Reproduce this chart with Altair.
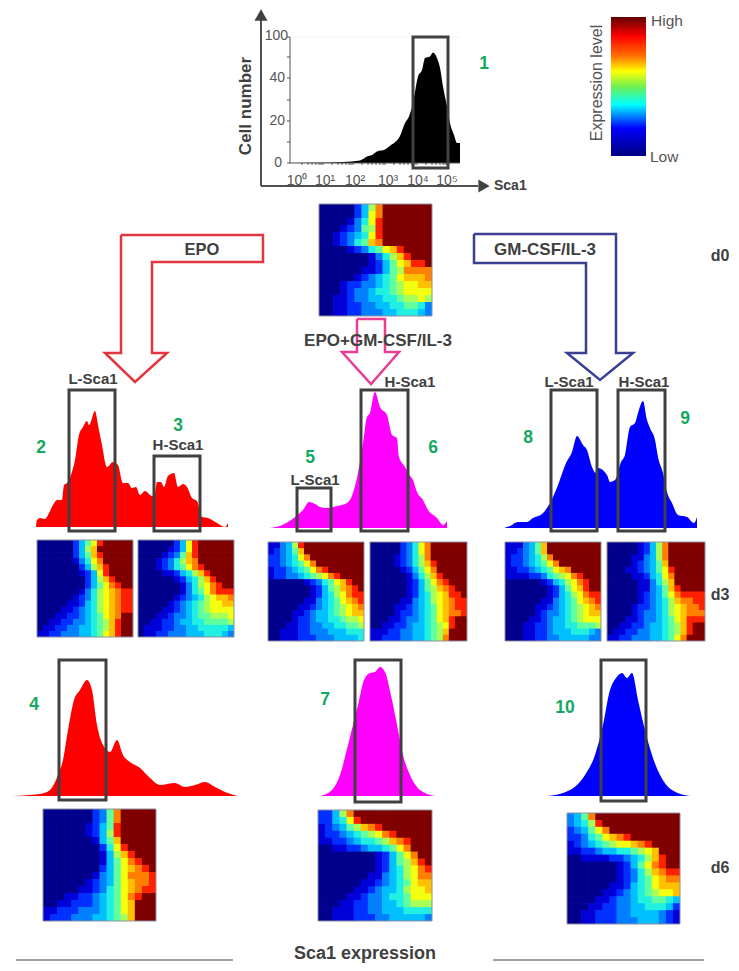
import altair as alt
import pandas as pd

# ---- histogram outlines (position, top of curve)
h1_x = [292,330,343,360,367,372,377,385,389,400,405,409,413,418,422,425,430,433,437,440,443,447,450,454,457,460]
h1_y = [163,162.5,162,160.5,156.5,155,151.5,149.5,146.5,136,123,116.5,103,76.5,70,58,56.5,52.5,58,68,86.5,106.5,123,135,143,143]
h2_x = [36,37,40,45,48,53,57,62,64,67,71,75,79,83,87,89,95,98,102,107,113,118,123,128,132,136,140,145,152,155,157,161,164,168,174,178,183,187,192,197,202,208,217,225,228]
h2_y = [527,520,518,519,515,505,500,500,485,483,475,460,435,427,421,425,411,425,445,467,462,465,483,483,488,487,495,491,496,493,482,482,487,476,473,487,484,487,498,501,517,518,523,527,523]
h5_x = [269,280,288,295,303,309,315,320,327,337,347,353,358,363,367,370,375,380,387,392,397,399,405,408,413,417,423,428,437,443,447]
h5_y = [528,526,522,517,510,502,504,507,508,506,503,493,473,443,417,413,392,407,415,435,438,457,467,473,480,492,500,510,518,525,521]
h8_x = [504,510,518,527,533,542,550,558,566,572,577,583,587,592,596,598,607,610,615,621,625,630,635,638,643,647,650,655,658,663,667,672,678,687,694,697]
h8_y = [528,526,522,522,518,514,503,485,463,452,436,445,450,467,473,468,475,482,480,462,455,427,423,413,401,420,428,440,457,473,492,503,515,517,523,517]
h4_x = [12,40,50,58,63,68,74,80,87,92,97,103,110,117,123,130,140,150,160,175,185,195,205,215,225,238]
h4_y = [796,794,790,775,760,730,700,690,680,690,725,745,752,740,755,762,768,778,785,783,787,785,782,787,792,796]
h7_x = [320,332,340,348,353,358,364,370,375,380,385,392,398,403,410,420,435]
h7_y = [796,790,775,745,725,705,680,673,672,667,672,700,730,755,775,790,796]
h10_x = [548,570,585,595,603,610,616,622,627,632,638,645,652,660,672,690]
h10_y = [796,790,775,755,725,690,678,673,678,673,700,730,755,775,790,796]

# ---- expression maps, one hex digit per cell (0 = low ... c = high)
map_d0 = ["00000247accccccc","00000248accccccc","00001358bccccccc","00012367bccccccc",
          "00123458bccccccc","00123569accccccc","00001235689bcccc","000000013579bccc",
          "0000000124689bbc","000000112467aaaa","000001234568999a","0001223345678899",
          "0001233455678888","0011233445567787","0011223344556653","0011223334455543"]
map_epo_l = ["0000002468bccccc","0000002479cccccc","0000002469bccccc","0000001358accccc",
             "00000002479bcccc","00000001248bcccc","000000002479bccc","000000002468abcc",
             "0000000135789abb","0000001235789abb","0000011245789abb","0000112345789abb",
             "0001122345689acc","0011223345679bcc","0112233445679bcc","1122333445689bcc"]
map_epo_h = ["000000248bcccccc","000001248bcccccc","000012369bcccccc","000123579acccccc",
             "000123568abccccc","00001124579bcccc","000000124579bccc","000000013578abcc",
             "000000013568abbb","000000123457899a","0000012345678899","0000112345678888",
             "0001123345667778","0011223445566667","0111223344555554","0112233344455543"]
map_mix_l = ["11347bcccccccccc","123469cccccccccc","223458accccccccc","2234568acccccccc",
             "12234568abcccccc","1223345678abcccc","0000001235689bcc","0000000124679abc",
             "0000000124578abb","00000011345689ab","000001123456789a","0000112344567899",
             "0000122344556778","0001122334455667","0011122333444555","0011122233344445"]
map_mix_h = ["000002358acccccc","000002358acccccc","000012357acccccc","0000123579bccccc",
             "0000012468accccc","00000013579bcccc","00000012468abccc","000000124679abcc",
             "0000001245789bbc","0000011345789abb","0000112345689abb","0000122345689aab",
             "0001123345689bcc","0011223445678bcc","1112233445679ccc","112223344567accc"]
map_gm_l = ["1113469ccccccccc","1123469ccccccccc","1223457acccccccc","12234568accccccc",
            "1122345689accccc","11112235678abccc","000000124578abcc","0000000124689bcc",
            "0000000124578abb","00000011345689ab","000001123456789a","0000012334567899",
            "0000112344567888","0001122344556667","0001122344455543","0001122334444433"]
map_gm_h = ["000001247acccccc","000001247acccccc","000011347acccccc","0000123469cccccc",
            "0001123468bccccc","0000112458accccc","00000113579ccccc","00000113469bcccc",
            "00000123468abbbb","000001234579aabb","0000122345789aab","0000123345789aaa",
            "0001123345689bbb","0011223445679bcc","0112233445679bcc","112233344568accc"]
map_epo_d6 = ["0000000236accccc","0000000236accccc","0000001246bccccc","0000001247bccccc",
              "00000001469ccccc","00000000258bcccc","000000001479bccc","000000001468abcc",
              "0000000024689abc","000000013468aaab","0000001234689aab","0000011235689abb",
              "000112234568abcc","0011222345689ccc","1122233345689ccc","1222333445679ccc"]
map_mix_d6 = ["2247accccccccccc","22458bcccccccccc","1234679abccccccc","122345678abccccc",
              "11223455679abccc","001122344568accc","0000000012468acc","00000000124679bc",
              "00000000124578ab","00000001134578aa","0000001123456899","0000011234457889",
              "0000112334556888","0001122334456777","0011122334445555","0011122233444443"]
map_gm_d6 = ["346acccccccccccc","3457bccccccccccc","23468acccccccccc","2235689abccccccc",
             "1234567889abcccc","1122344556789ccc","0011112234579bcc","000000012468abcc",
             "0000000123579abb","00000001235689aa","0000001124568999","0000011234567889",
             "0000112334556654","0001122334455542","0011222334444321","0011222333444321"]

jet_levels = list(range(13))
jet_colors = ["#00008c","#0000d8","#0030ff","#0080ff","#00c0ff","#20f0e0","#60ffa0",
              "#a8ff58","#f4ff10","#ffc000","#ff8000","#ff2000","#800000"]

GRAY = "#404040"
SOFT = "#555555"
GREEN = "#14a860"
FONT = "Liberation Sans"

X = alt.Scale(domain=[8, 731], nice=False, zero=False)
Y = alt.Scale(domain=[963, 8], nice=False, zero=False)


def xq(f):
    return alt.X(f"{f}:Q", scale=X, axis=None, title=None)


def yq(f):
    return alt.Y(f"{f}:Q", scale=Y, axis=None, title=None, stack=None)


def hist(xs, ys, base, color):
    d = pd.DataFrame({"x": xs, "y": ys, "b": [base] * len(xs)})
    return alt.Chart(d).mark_area(color=color, interpolate="monotone").encode(
        x=xq("x"), y=yq("y"), y2="b:Q")


def heat(rows, x0, x1, y0, y1):
    n = len(rows)
    m = len(rows[0])
    rec = []
    for r, row in enumerate(rows):
        for c, ch in enumerate(row):
            rec.append({"x": x0 + (x1 - x0) * c / m,
                        "x2": min(x1, x0 + (x1 - x0) * (c + 1) / m + 0.7),
                        "y": y0 + (y1 - y0) * r / n,
                        "y2": min(y1, y0 + (y1 - y0) * (r + 1) / n + 0.7),
                        "level": int(ch, 16)})
    sc = alt.Scale(domain=jet_levels, range=jet_colors)
    cells = alt.Chart(pd.DataFrame(rec)).mark_rect().encode(
        x=xq("x"), x2="x2:Q", y=yq("y"), y2="y2:Q",
        color=alt.Color("level:O", scale=sc, legend=None))
    frame = boxes([(x0, x1, y0, y1)], "#8f8f9f", 1)
    return cells + frame


def boxes(items, color, width):
    d = pd.DataFrame(items, columns=["x", "x2", "y", "y2"])
    return alt.Chart(d).mark_rect(filled=False, stroke=color, strokeWidth=width).encode(
        x=xq("x"), x2="x2:Q", y=yq("y"), y2="y2:Q")


def rules(items, color, width):
    d = pd.DataFrame(items, columns=["x", "x2", "y", "y2"])
    return alt.Chart(d).mark_rule(color=color, strokeWidth=width).encode(
        x=xq("x"), x2="x2:Q", y=yq("y"), y2="y2:Q")


def outline(points, color, width=2.5):
    d = pd.DataFrame(points, columns=["x", "y"])
    d["o"] = range(len(d))
    return alt.Chart(d).mark_line(color=color, strokeWidth=width, strokeJoin="miter").encode(
        x=xq("x"), y=yq("y"), order="o:Q")


def text(items, size, color=GRAY, bold=True, align="center", angle=0):
    d = pd.DataFrame(items, columns=["t", "x", "y"])
    return alt.Chart(d).mark_text(font=FONT, fontSize=size, color=color, align=align, baseline="middle",
                                  fontWeight="bold" if bold else "normal", angle=angle).encode(
        x=xq("x"), y=yq("y"), text="t:N")


layers = []
# histograms
layers += [hist(h1_x, h1_y, 163, "#000000"),
           hist(h2_x, h2_y, 527, "#ff0000"), hist(h4_x, h4_y, 796, "#ff0000"),
           hist(h5_x, h5_y, 528, "#ff00ff"), hist(h7_x, h7_y, 796, "#ff00ff"),
           hist(h8_x, h8_y, 528, "#0000ff"), hist(h10_x, h10_y, 796, "#0000ff")]

# top axes
layers.append(rules([(261, 261, 18, 186), (261, 478, 186, 186)], "#505050", 2))
layers.append(rules([(290, 290, 37, 163), (290, 460, 163, 163)], "#505050", 1))
layers.append(rules([(292, 460, 37, 37)], "#f4f4f4", 1))
y_ticks = [37, 57, 78, 100, 121, 142, 163]
layers.append(rules([(287, 290, v, v) for v in y_ticks], "#505050", 1))
x_ticks = [323, 353, 385, 417, 447, 302, 308, 312, 316, 319, 321, 332, 338, 342, 346, 349, 351,
           362, 368, 372, 376, 380, 383, 394, 400, 404, 408, 412, 415, 426, 432, 436, 440, 443, 445]
layers.append(rules([(v, v, 163, 165) for v in x_ticks], "#505050", 1))
ends = pd.DataFrame({"x": [261], "y": [15]})
layers.append(alt.Chart(ends).mark_point(shape="triangle-up", filled=True, color="#404040", size=170, opacity=1).encode(
    x=xq("x"), y=yq("y")))
ends2 = pd.DataFrame({"x": [484], "y": [186]})
layers.append(alt.Chart(ends2).mark_point(shape="triangle-right", filled=True, color="#404040", size=170, opacity=1).encode(
    x=xq("x"), y=yq("y")))

# colour legend
bar = pd.DataFrame({"x": [611], "x2": [646], "y": [17], "y2": [156]})
grad = alt.Gradient(gradient="linear", x1=0, x2=0, y1=0, y2=1, stops=[
    alt.GradientStop(offset=0, color="#600000"), alt.GradientStop(offset=0.14, color="#ff0000"),
    alt.GradientStop(offset=0.28, color="#ff7000"), alt.GradientStop(offset=0.39, color="#ffff00"),
    alt.GradientStop(offset=0.5, color="#70f050"), alt.GradientStop(offset=0.63, color="#00ffff"),
    alt.GradientStop(offset=0.8, color="#0000ff"), alt.GradientStop(offset=1, color="#000080")])
layers.append(alt.Chart(bar).mark_rect(fill=grad).encode(x=xq("x"), x2="x2:Q", y=yq("y"), y2="y2:Q"))

# expression maps
layers += [heat(map_d0, 319, 432, 204, 316),
           heat(map_epo_l, 37, 133, 540, 637), heat(map_epo_h, 138, 234, 540, 637),
           heat(map_mix_l, 268, 364, 542, 641), heat(map_mix_h, 370, 467, 542, 641),
           heat(map_gm_l, 505, 601, 542, 641), heat(map_gm_h, 607, 705, 542, 641),
           heat(map_epo_d6, 43, 156, 809, 921), heat(map_mix_d6, 318, 432, 810, 921),
           heat(map_gm_d6, 567, 680, 813, 924)]

# block arrows
layers.append(outline([(121, 235), (263, 235), (263, 262), (152, 262), (152, 353), (167, 353), (135, 382),
                       (105, 353), (121, 353), (121, 235)], "#e2363e"))
layers.append(outline([(357, 319), (385, 319), (385, 352), (399, 352), (371, 384), (342, 352), (357, 352),
                       (357, 319)], "#e83e96"))
layers.append(outline([(474, 234), (616, 234), (616, 353), (633, 353), (600, 380), (567, 353), (586, 353),
                       (586, 263), (474, 263), (474, 234)], "#3b3f94"))

# gates
layers.append(boxes([(413, 448, 37, 168), (69, 115, 390, 531), (154, 200, 456, 531),
                     (297, 331, 488, 531), (361, 408, 390, 531), (551, 597, 390, 531),
                     (618, 665, 390, 531), (59, 106, 660, 800), (355, 401, 660, 802),
                     (601, 646, 660, 801)], "#404040", 3))

# bottom rules
layers.append(rules([(16, 233, 960, 960), (493, 704, 960, 960)], "#404040", 1))

# texts
layers.append(text([("Cell number", 246, 106)], 17, angle=270))
layers.append(text([("Expression level", 597, 83)], 16, SOFT, False, angle=270))
layers.append(text([("100", 288, 36)], 14, SOFT, False, "right"))
layers.append(text([("40", 285, 78), ("20", 285, 121), ("0", 282, 163)], 14, SOFT, False, "right"))
layers.append(text([("10⁰", 297, 181), ("10¹", 325, 181), ("10²", 355, 181),
                    ("10³", 388, 181), ("10⁴", 418, 181), ("10⁵", 447, 181)], 14, SOFT, False))
layers.append(text([("Sca1", 494, 186)], 14, align="left"))
layers.append(text([("High", 651, 21), ("Low", 650, 157)], 15.5, SOFT, False, "left"))
layers.append(text([("EPO", 202, 250)], 16.5))
layers.append(text([("EPO+GM-CSF/IL-3", 378, 341), ("GM-CSF/IL-3", 545, 250)], 17))
layers.append(text([("d0", 720, 256), ("d3", 720, 595), ("d6", 720, 868)], 16))
layers.append(text([("L-Sca1", 93, 379), ("H-Sca1", 178, 445), ("L-Sca1", 315, 480), ("H-Sca1", 410, 382),
                    ("L-Sca1", 569, 382), ("H-Sca1", 644, 382)], 15))
layers.append(text([("1", 484, 64), ("2", 41, 448), ("3", 178, 426), ("4", 34, 705), ("5", 310, 458),
                    ("6", 433, 448), ("7", 325, 700), ("8", 528, 438), ("9", 685, 419), ("10", 565, 708)],
                   17.5, GREEN))
layers.append(text([("Sca1 expression", 365, 954)], 18))

chart = alt.layer(*layers).properties(
    width=723, height=955, padding=0, autosize=alt.AutoSizeParams(type="none"),
    background="#ffffff"
).configure_view(stroke=None)

chart.save("out.html", embed_options={"renderer": "svg", "actions": False})
